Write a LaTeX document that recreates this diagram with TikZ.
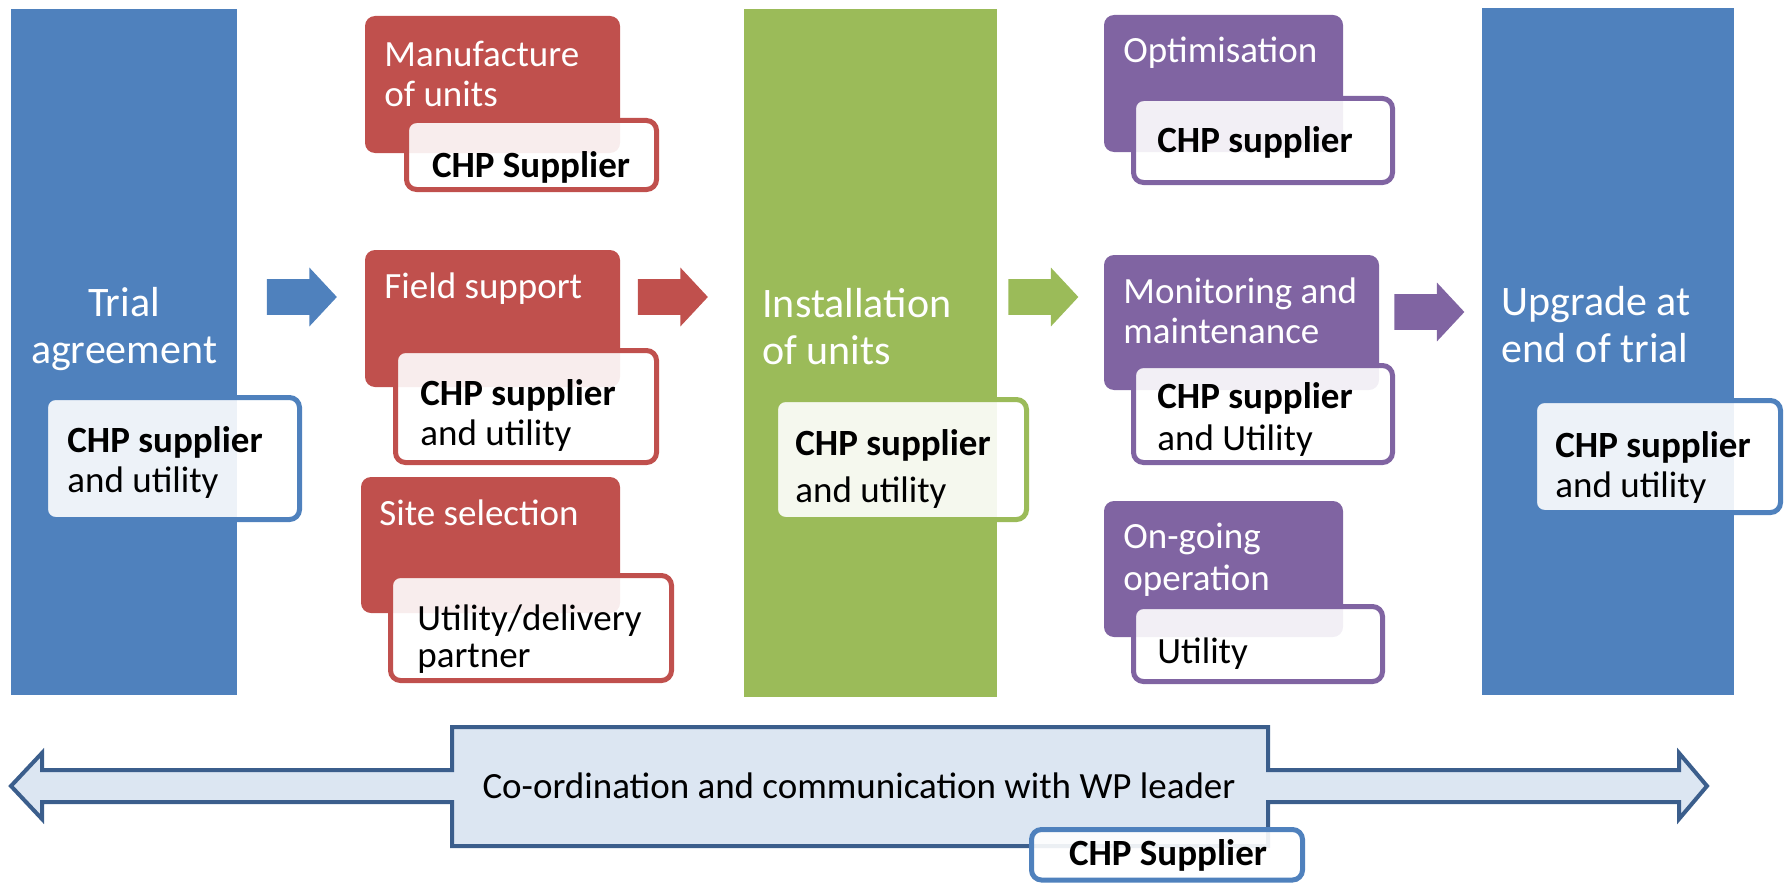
\documentclass[tikz,border=0pt]{standalone}
\usepackage{fontspec}
\setmainfont{Carlito}
\usetikzlibrary{shapes.arrows, fit, positioning}

\definecolor{phaseblue}{HTML}{4F81BD}
\definecolor{taskred}{HTML}{C0504D}
\definecolor{phasegreen}{HTML}{9BBB59}
\definecolor{taskpurple}{HTML}{8064A2}
\definecolor{coordline}{HTML}{3B5E8C}
\definecolor{coordfill}{HTML}{DCE6F2}

\begin{document}
\begin{tikzpicture}[x=0.5pt,y=-0.5pt,
  phasebar/.style={fill=#1, inner sep=0pt},
  taskbox/.style={fill=#1, rounded corners=5pt, inner sep=0pt},
  rolebox/.style={draw=#1, line width=2.5pt, fill=white, fill opacity=0.9, rounded corners=5pt, inner sep=0pt},
  phaselabel/.style={text=white, font=\fontsize{21}{23.5}\selectfont, align=left, inner sep=0pt, anchor=base west},
  tasklabel/.style={text=white, font=\fontsize{18.5}{20}\selectfont, align=left, inner sep=0pt, anchor=base west},
  rolelabel/.style={font=\fontsize{18.5}{20}\selectfont, align=left, inner sep=0pt, anchor=base west},
  flowarrow/.style={single arrow, fill=#1, inner xsep=0pt, inner ysep=8.75pt, minimum height=35pt, single arrow head extend=5.75pt, single arrow tip angle=94}]
\useasboundingbox (0,0) rectangle (1787,883);

% trial agreement
\node[phasebar=phaseblue, fit={(11,9) (237,695)}] (trial) {};
\node[phaselabel, align=center, anchor=base] (trialt) at (124,363) {Trial\\agreement};
\node[rolebox=phaseblue, fit={(45.5,397.5) (299.5,519.5)}] (trialr) {};
\node[rolelabel] (trialrt) at (67,492) {\textbf{CHP supplier}\\and utility};

% red tasks
\node[taskbox=taskred, fit={(365,16) (620,153)}] (manuf) {};
\node[tasklabel] (manuft) at (384,106) {Manufacture\\of units};
\node[rolebox=taskred, fit={(406.5,120.5) (656.5,189.5)}] (manufr) {};
\node[rolelabel, anchor=base] (manufrt) at (531,177) {\textbf{CHP Supplier}};

\node[taskbox=taskred, fit={(365,250) (620,387)}] (field) {};
\node[tasklabel] (fieldt) at (384,298) {Field support};
\node[rolebox=taskred, fit={(395.5,350.5) (656.5,462.5)}] (fieldr) {};
\node[rolelabel] (fieldrt) at (420,445) {\textbf{CHP supplier}\\and utility};

\node[taskbox=taskred, fit={(361,477) (620,613)}] (site) {};
\node[tasklabel] (sitet) at (379,525) {Site selection};
\node[rolebox=taskred, fit={(390.5,575.5) (671.5,680.5)}] (siter) {};
\node[rolelabel, font=\fontsize{18.5}{18.5}\selectfont] (sitert) at (417,667) {Utility/delivery\\partner};

% installation
\node[phasebar=phasegreen, fit={(744,9) (997,697)}] (install) {};
\node[phaselabel] (installt) at (762,364) {Installation\\of units};
\node[rolebox=phasegreen, fit={(775.5,399.5) (1026.5,519.5)}] (installr) {};
\node[rolelabel, font=\fontsize{18.5}{23.5}\selectfont] (installrt) at (795,502) {\textbf{CHP supplier}\\and utility};

% purple tasks
\node[taskbox=taskpurple, fit={(1104,15) (1343,152)}] (optim) {};
\node[tasklabel] (optimt) at (1123,63) {Optimisation};
\node[rolebox=taskpurple, fit={(1133.5,98.5) (1392.5,182.5)}] (optimr) {};
\node[rolelabel] (optimrt) at (1157,153) {\textbf{CHP supplier}};

\node[taskbox=taskpurple, fit={(1104,255) (1379,390)}] (monit) {};
\node[tasklabel] (monitt) at (1123,343) {Monitoring and\\maintenance};
\node[rolebox=taskpurple, fit={(1133.5,365.5) (1392.5,462.5)}] (monitr) {};
\node[rolelabel, font=\fontsize{18.5}{21}\selectfont] (monitrt) at (1157,450) {\textbf{CHP supplier}\\and Utility};

\node[taskbox=taskpurple, fit={(1104,501) (1343,637)}] (ongo) {};
\node[tasklabel, font=\fontsize{18.5}{21}\selectfont] (ongot) at (1123,590) {On-going\\operation};
\node[rolebox=taskpurple, fit={(1133.5,606.5) (1382.5,681.5)}] (ongor) {};
\node[rolelabel] (ongort) at (1157,663) {Utility};

% upgrade
\node[phasebar=phaseblue, fit={(1482,8) (1734,695)}] (upgrade) {};
\node[phaselabel] (upgradet) at (1501,362) {Upgrade at\\end of trial};
\node[rolebox=phaseblue, fit={(1534.5,400.5) (1780.5,512.5)}] (upgrader) {};
\node[rolelabel] (upgradert) at (1555,497) {\textbf{CHP supplier}\\and utility};

% flow arrows
\node[flowarrow=phaseblue] (a1) at (293.5,297) {};
\node[flowarrow=taskred] (a2) at (664.5,297) {};
\node[flowarrow=phasegreen] (a3) at (1035,297) {};
\node[flowarrow=taskpurple] (a4) at (1421,312) {};

% co-ordination
\draw[coordline, line width=2pt, fill=coordfill, line join=miter]
  (11,786) -- (42,753) -- (42,770) -- (452,770) -- (452,727) -- (1268,727)
  -- (1268,770) -- (1679,770) -- (1679,753) -- (1707,786) -- (1679,819)
  -- (1679,802) -- (1268,802) -- (1268,846) -- (452,846) -- (452,802)
  -- (42,802) -- (42,819) -- cycle;
\node[rolelabel, anchor=base] (coord) at (859,798) {Co-ordination and communication with WP leader};
\node[rolebox=phaseblue, fit={(1031.5,829.5) (1302.5,880)}] (coordr) {};
\node[rolelabel, anchor=base] (coordrt) at (1168,865) {\textbf{CHP Supplier}};
\end{tikzpicture}
\end{document}
